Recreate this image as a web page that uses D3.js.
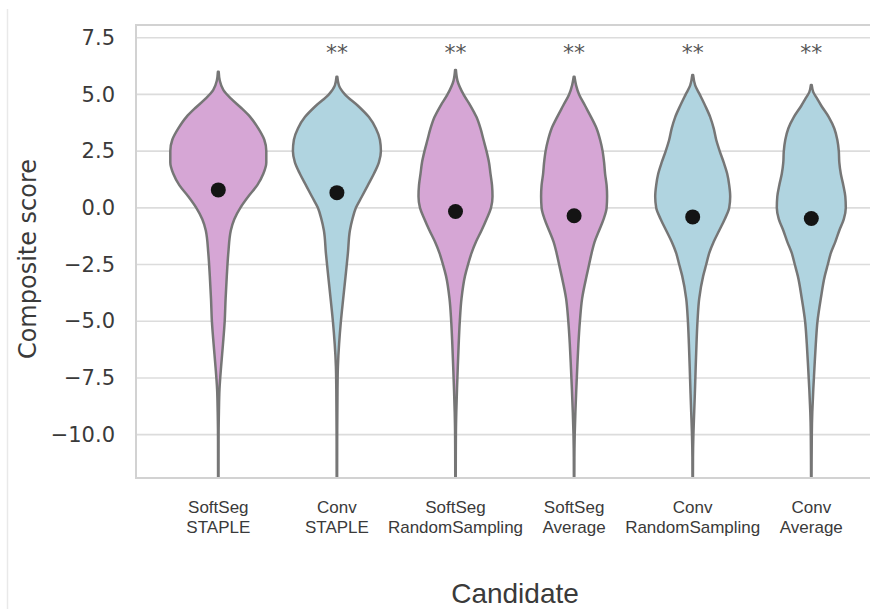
<!DOCTYPE html>
<html>
<head>
<meta charset="utf-8">
<script src="https://cdn.jsdelivr.net/npm/d3@7"></script>
<style>
  html, body { margin: 0; padding: 0; background: #fff; }
  svg { display: block; }
</style>
</head>
<body>
<svg id="chart" width="870" height="609"></svg>
<script>
// Candidate labels (two lines each) and their segmentation family
const candidateTop = ["SoftSeg", "Conv", "SoftSeg", "SoftSeg", "Conv", "Conv"];
const candidateBottom = ["STAPLE", "STAPLE", "RandomSampling", "Average", "RandomSampling", "Average"];
const families = ["SoftSeg", "Conv", "SoftSeg", "SoftSeg", "Conv", "Conv"];

// Median composite score per candidate
const medians = [0.79, 0.67, -0.16, -0.35, -0.40, -0.47];

// Significance markers vs. the reference candidate
const significance = ["", "**", "**", "**", "**", "**"];

// Y axis ticks
const yTicks = [-10, -7.5, -5, -2.5, 0, 2.5, 5, 7.5];

// Kernel density profiles: [score, density]
const densitySoftSegStaple = [
  [6.0, 0.004], [5.6, 0.015], [5.2, 0.05], [4.8, 0.13], [4.4, 0.23], [4.0, 0.32],
  [3.5, 0.40], [3.0, 0.46], [2.5, 0.48], [2.0, 0.48], [1.5, 0.45], [1.0, 0.39],
  [0.5, 0.30], [0.0, 0.22], [-0.5, 0.16], [-1.0, 0.125], [-2.0, 0.10], [-3.0, 0.085],
  [-4.0, 0.073], [-5.0, 0.064], [-6.0, 0.047], [-7.0, 0.028], [-8.0, 0.012],
  [-9.0, 0.006], [-10.0, 0.003], [-12.5, 0.002]
];
const densityConvStaple = [
  [5.78, 0.004], [5.4, 0.02], [5.0, 0.08], [4.5, 0.21], [4.0, 0.32], [3.5, 0.39],
  [3.0, 0.43], [2.5, 0.44], [2.0, 0.42], [1.5, 0.37], [1.0, 0.31], [0.5, 0.25],
  [0.0, 0.19], [-0.5, 0.155], [-1.0, 0.13], [-2.0, 0.11], [-3.0, 0.087],
  [-4.0, 0.063], [-5.0, 0.04], [-6.0, 0.022], [-6.5, 0.015], [-7.0, 0.01], [-8.0, 0.006],
  [-10.0, 0.003], [-12.5, 0.002]
];
const densitySoftSegRandom = [
  [6.08, 0.004], [5.6, 0.02], [5.0, 0.08], [4.5, 0.15], [4.0, 0.21], [3.5, 0.25],
  [3.0, 0.28], [2.5, 0.31], [2.0, 0.335], [1.5, 0.35], [1.0, 0.365], [0.5, 0.37],
  [0.0, 0.355], [-0.5, 0.31], [-1.0, 0.26], [-1.5, 0.205], [-2.0, 0.16], [-2.5, 0.125],
  [-3.0, 0.095], [-4.0, 0.06], [-5.0, 0.043], [-6.0, 0.032], [-7.0, 0.023], [-8.0, 0.015],
  [-9.0, 0.008], [-10.0, 0.004], [-12.5, 0.002]
];
const densitySoftSegAverage = [
  [5.78, 0.004], [5.4, 0.02], [5.0, 0.05], [4.5, 0.11], [4.0, 0.17], [3.5, 0.225],
  [3.0, 0.26], [2.5, 0.285], [2.0, 0.30], [1.5, 0.31], [1.0, 0.325], [0.5, 0.33],
  [0.0, 0.325], [-0.5, 0.295], [-1.0, 0.25], [-1.5, 0.205], [-2.0, 0.175], [-2.5, 0.15],
  [-3.0, 0.125], [-4.0, 0.08], [-5.0, 0.058], [-6.0, 0.043], [-7.0, 0.032], [-8.0, 0.022],
  [-9.0, 0.013], [-10.0, 0.006], [-11.0, 0.003], [-12.5, 0.002]
];
const densityConvRandom = [
  [5.86, 0.004], [5.4, 0.025], [5.0, 0.07], [4.5, 0.125], [4.0, 0.175], [3.5, 0.21],
  [3.0, 0.235], [2.5, 0.27], [2.0, 0.31], [1.5, 0.345], [1.0, 0.365], [0.5, 0.375],
  [0.0, 0.365], [-0.5, 0.32], [-1.0, 0.265], [-1.5, 0.21], [-2.0, 0.165], [-2.5, 0.135],
  [-3.0, 0.105], [-4.0, 0.065], [-5.0, 0.048], [-6.0, 0.038], [-7.0, 0.03], [-8.0, 0.023],
  [-9.0, 0.015], [-10.0, 0.007], [-11.0, 0.003], [-12.5, 0.002]
];
const densityConvAverage = [
  [5.42, 0.004], [5.1, 0.02], [4.8, 0.06], [4.5, 0.10], [4.0, 0.175], [3.5, 0.23],
  [3.0, 0.26], [2.5, 0.275], [2.0, 0.28], [1.5, 0.295], [1.0, 0.32], [0.5, 0.34],
  [0.0, 0.345], [-0.5, 0.325], [-1.0, 0.28], [-1.5, 0.24], [-2.0, 0.195], [-2.5, 0.165],
  [-3.0, 0.135], [-4.0, 0.095], [-5.0, 0.062], [-6.0, 0.045], [-7.0, 0.032], [-8.0, 0.02],
  [-8.5, 0.015], [-9.0, 0.01], [-10.0, 0.005], [-12.5, 0.002]
];
const densities = [
  densitySoftSegStaple, densityConvStaple, densitySoftSegRandom,
  densitySoftSegAverage, densityConvRandom, densityConvAverage
];

const familyColor = { SoftSeg: "#d6a6d5", Conv: "#b0d4e0" };

const svg = d3.select("#chart");
const frame = { left: 136, right: 874, top: 25, bottom: 478 };

const x = d3.scaleBand()
  .domain(d3.range(candidateTop.length))
  .range([159, 159 + 6 * 118.6])
  .padding(0);
const y = d3.scaleLinear().domain([-11.91, 8.06]).range([frame.bottom, frame.top]);
const w = d3.scaleLinear().domain([0, 1]).range([0, 100]);

// faint page edge
svg.append("line")
  .attr("x1", 7.5).attr("x2", 7.5).attr("y1", 9).attr("y2", 609)
  .attr("stroke", "#e9e9e9").attr("stroke-width", 1.5);

// grid lines
svg.append("g")
  .selectAll("line")
  .data(yTicks)
  .join("line")
  .attr("x1", frame.left).attr("x2", frame.right)
  .attr("y1", d => y(d)).attr("y2", d => y(d))
  .attr("stroke", "#dcdcdc").attr("stroke-width", 1.6);

// y axis tick labels
const yAxis = d3.axisLeft(y)
  .tickValues(yTicks)
  .tickSize(0)
  .tickPadding(21)
  .tickFormat(d => d3.format(".1f")(d).replace("-", "\u2212"));
const yAxisG = svg.append("g")
  .attr("transform", `translate(${frame.left},0)`)
  .call(yAxis);
yAxisG.select(".domain").remove();
yAxisG.selectAll("text")
  .attr("font-family", "DejaVu Sans")
  .attr("font-size", 21)
  .attr("fill", "#3a3a3a");

// clipping to the plot frame
svg.append("clipPath").attr("id", "plotClip")
  .append("rect")
  .attr("x", frame.left).attr("y", frame.top)
  .attr("width", frame.right - frame.left).attr("height", frame.bottom - frame.top);

const violinArea = (cx) => d3.area()
  .y(d => y(d[0]))
  .x0(d => cx - w(d[1]))
  .x1(d => cx + w(d[1]))
  .curve(d3.curveMonotoneY);

const violins = svg.append("g").attr("clip-path", "url(#plotClip)");
densities.forEach((dens, i) => {
  const cx = x(i) + x.bandwidth() / 2;
  violins.append("path")
    .datum(dens)
    .attr("d", violinArea(cx))
    .attr("fill", familyColor[families[i]])
    .attr("stroke", "#767676")
    .attr("stroke-width", 2.5)
    .attr("stroke-linejoin", "round");
});

// median markers
svg.append("g")
  .selectAll("circle")
  .data(medians)
  .join("circle")
  .attr("cx", (d, i) => x(i) + x.bandwidth() / 2)
  .attr("cy", d => y(d))
  .attr("r", 7.5)
  .attr("fill", "#141414");

// significance markers
svg.append("g")
  .selectAll("text")
  .data(significance)
  .join("text")
  .attr("x", (d, i) => x(i) + x.bandwidth() / 2)
  .attr("y", 60)
  .attr("text-anchor", "middle")
  .attr("font-family", "DejaVu Sans")
  .attr("font-size", 22)
  .attr("fill", "#555")
  .text(d => d);

// plot frame
svg.append("rect")
  .attr("x", frame.left).attr("y", frame.top)
  .attr("width", frame.right - frame.left).attr("height", frame.bottom - frame.top)
  .attr("fill", "none")
  .attr("stroke", "#d2d2d2")
  .attr("stroke-width", 2);

// x tick labels
const xLabels = svg.append("g")
  .selectAll("text")
  .data(d3.range(candidateTop.length))
  .join("text")
  .attr("text-anchor", "middle")
  .attr("font-family", "Liberation Sans, Arial, sans-serif")
  .attr("font-size", 17)
  .attr("fill", "#3a3a3a");
xLabels.append("tspan")
  .attr("x", i => x(i) + x.bandwidth() / 2)
  .attr("y", 513)
  .text(i => candidateTop[i]);
xLabels.append("tspan")
  .attr("x", i => x(i) + x.bandwidth() / 2)
  .attr("y", 533)
  .text(i => candidateBottom[i]);

// axis titles
svg.append("text")
  .attr("x", 515).attr("y", 603)
  .attr("text-anchor", "middle")
  .attr("font-family", "Liberation Sans, Arial, sans-serif")
  .attr("font-size", 28)
  .attr("fill", "#3a3a3a")
  .text("Candidate");

svg.append("text")
  .attr("transform", "translate(36,259) rotate(-90)")
  .attr("text-anchor", "middle")
  .attr("font-family", "DejaVu Sans")
  .attr("font-size", 24)
  .attr("fill", "#3a3a3a")
  .text("Composite score");
</script>
</body>
</html>
